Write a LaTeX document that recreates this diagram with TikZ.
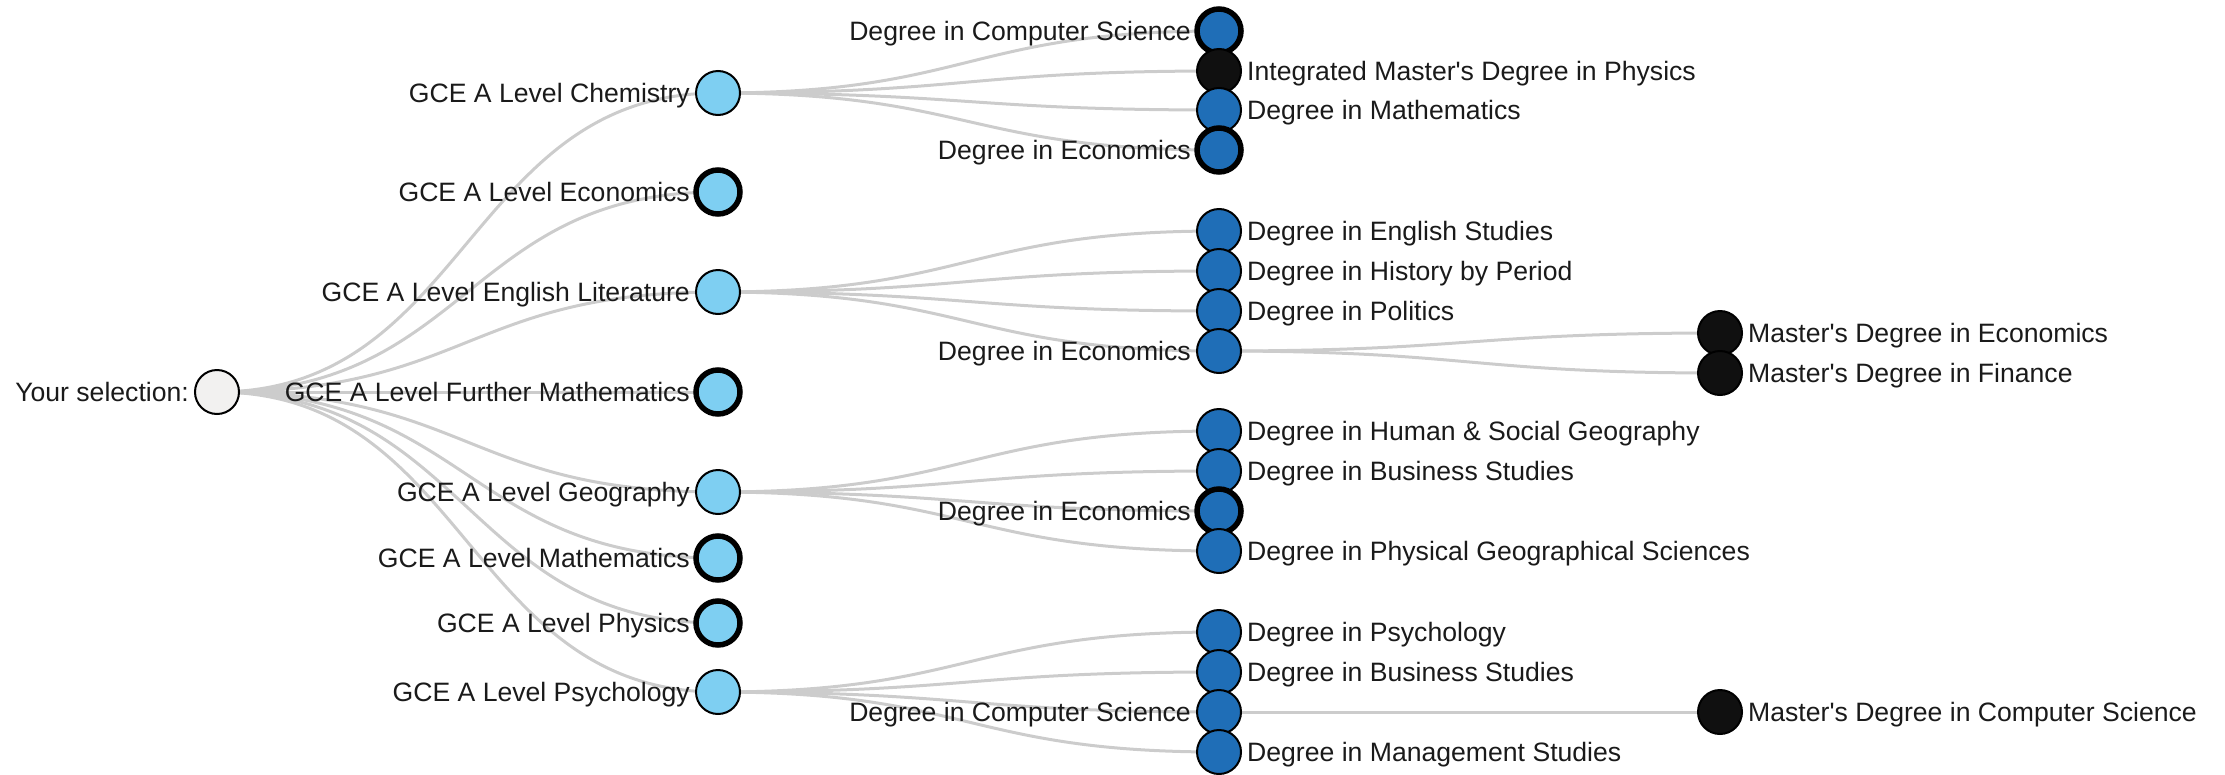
\documentclass[tikz,border=0pt]{standalone}
\usepackage{fontspec}
\setmainfont{Liberation Sans}[Ligatures=TeXOff]
\usetikzlibrary{calc}
\pgfdeclarelayer{bg}
\pgfsetlayers{bg,main}
\definecolor{linkc}{HTML}{CCCCCC}
\definecolor{rootc}{HTML}{F2F1F0}
\definecolor{alevc}{HTML}{7ECFF2}
\definecolor{degc}{HTML}{1F6EB7}
\definecolor{mastc}{HTML}{101010}
\definecolor{labelc}{HTML}{1A1A1A}
% tree node with label on the left / right of its circle
\newcommand\tnl[5]{%
  \node[#2] (#1) at (#3,#4) {};
  \node[lbl, anchor=base east] (#1-t) at ([xshift=-28pt,yshift=-9.3pt]#1.center) {#5};}
\newcommand\tnr[5]{%
  \node[#2] (#1) at (#3,#4) {};
  \node[lbl, anchor=base west] (#1-t) at ([xshift=28pt,yshift=-9.3pt]#1.center) {#5};}
% horizontal diagonal link between two node centres
\newcommand\lnk[2]{%
  \path (#1.center) -- coordinate[pos=0.5] (mid) (#2.center);
  \draw[link] (#1.center) .. controls (mid |- #1.center) and (mid |- #2.center) .. (#2.center);}
\begin{document}
\begin{tikzpicture}[x=1pt,y=-1pt,
  tnode/.style={circle, draw=black, line width=2pt, minimum size=44pt, inner sep=0pt},
  rootn/.style={tnode, fill=rootc},
  alevel/.style={tnode, fill=alevc},
  degree/.style={tnode, fill=degc},
  master/.style={tnode, fill=mastc},
  collapsed/.style={line width=5.5pt},
  link/.style={draw=linkc, line width=3pt},
  lbl/.style={inner sep=0pt, text=labelc, font=\fontsize{26.6}{32}\selectfont},
]
\useasboundingbox (0,0) rectangle (2225,774);

% root
\tnl{root}{rootn}{217}{392}{Your selection:}

% A level subjects
\tnl{chem}{alevel}{718}{93}{GCE A Level Chemistry}
\tnl{econ}{alevel,collapsed}{718}{192}{GCE A Level Economics}
\tnl{englit}{alevel}{718}{292}{GCE A Level English Literature}
\tnl{fmath}{alevel,collapsed}{718}{392}{GCE A Level Further Mathematics}
\tnl{geo}{alevel}{718}{492}{GCE A Level Geography}
\tnl{math}{alevel,collapsed}{718}{558}{GCE A Level Mathematics}
\tnl{phys}{alevel,collapsed}{718}{623}{GCE A Level Physics}
\tnl{psych}{alevel}{718}{692}{GCE A Level Psychology}

% degrees after Chemistry
\tnl{c1}{degree,collapsed}{1219}{31}{Degree in Computer Science}
\tnr{c2}{master}{1219}{71}{Integrated Master's Degree in Physics}
\tnr{c3}{degree}{1219}{110}{Degree in Mathematics}
\tnl{c4}{degree,collapsed}{1219}{150}{Degree in Economics}

% degrees after English Literature
\tnr{e1}{degree}{1219}{231}{Degree in English Studies}
\tnr{e2}{degree}{1219}{271}{Degree in History by Period}
\tnr{e3}{degree}{1219}{311}{Degree in Politics}
\tnl{e4}{degree}{1219}{351}{Degree in Economics}

% degrees after Geography
\tnr{g1}{degree}{1219}{431}{Degree in Human \& Social Geography}
\tnr{g2}{degree}{1219}{471}{Degree in Business Studies}
\tnl{g3}{degree,collapsed}{1219}{511}{Degree in Economics}
\tnr{g4}{degree}{1219}{551}{Degree in Physical Geographical Sciences}

% degrees after Psychology
\tnr{p1}{degree}{1219}{632}{Degree in Psychology}
\tnr{p2}{degree}{1219}{672}{Degree in Business Studies}
\tnl{p3}{degree}{1219}{712}{Degree in Computer Science}
\tnr{p4}{degree}{1219}{752}{Degree in Management Studies}

% master's degrees
\tnr{m1}{master}{1720}{333}{Master's Degree in Economics}
\tnr{m2}{master}{1720}{373}{Master's Degree in Finance}
\tnr{m3}{master}{1720}{712}{Master's Degree in Computer Science}

\begin{pgfonlayer}{bg}
  \foreach \t in {chem,econ,englit,fmath,geo,math,phys,psych} {\lnk{root}{\t}}
  \foreach \t in {c1,c2,c3,c4} {\lnk{chem}{\t}}
  \foreach \t in {e1,e2,e3,e4} {\lnk{englit}{\t}}
  \foreach \t in {g1,g2,g3,g4} {\lnk{geo}{\t}}
  \foreach \t in {p1,p2,p3,p4} {\lnk{psych}{\t}}
  \lnk{e4}{m1}
  \lnk{e4}{m2}
  \lnk{p3}{m3}
\end{pgfonlayer}
\end{tikzpicture}
\end{document}
